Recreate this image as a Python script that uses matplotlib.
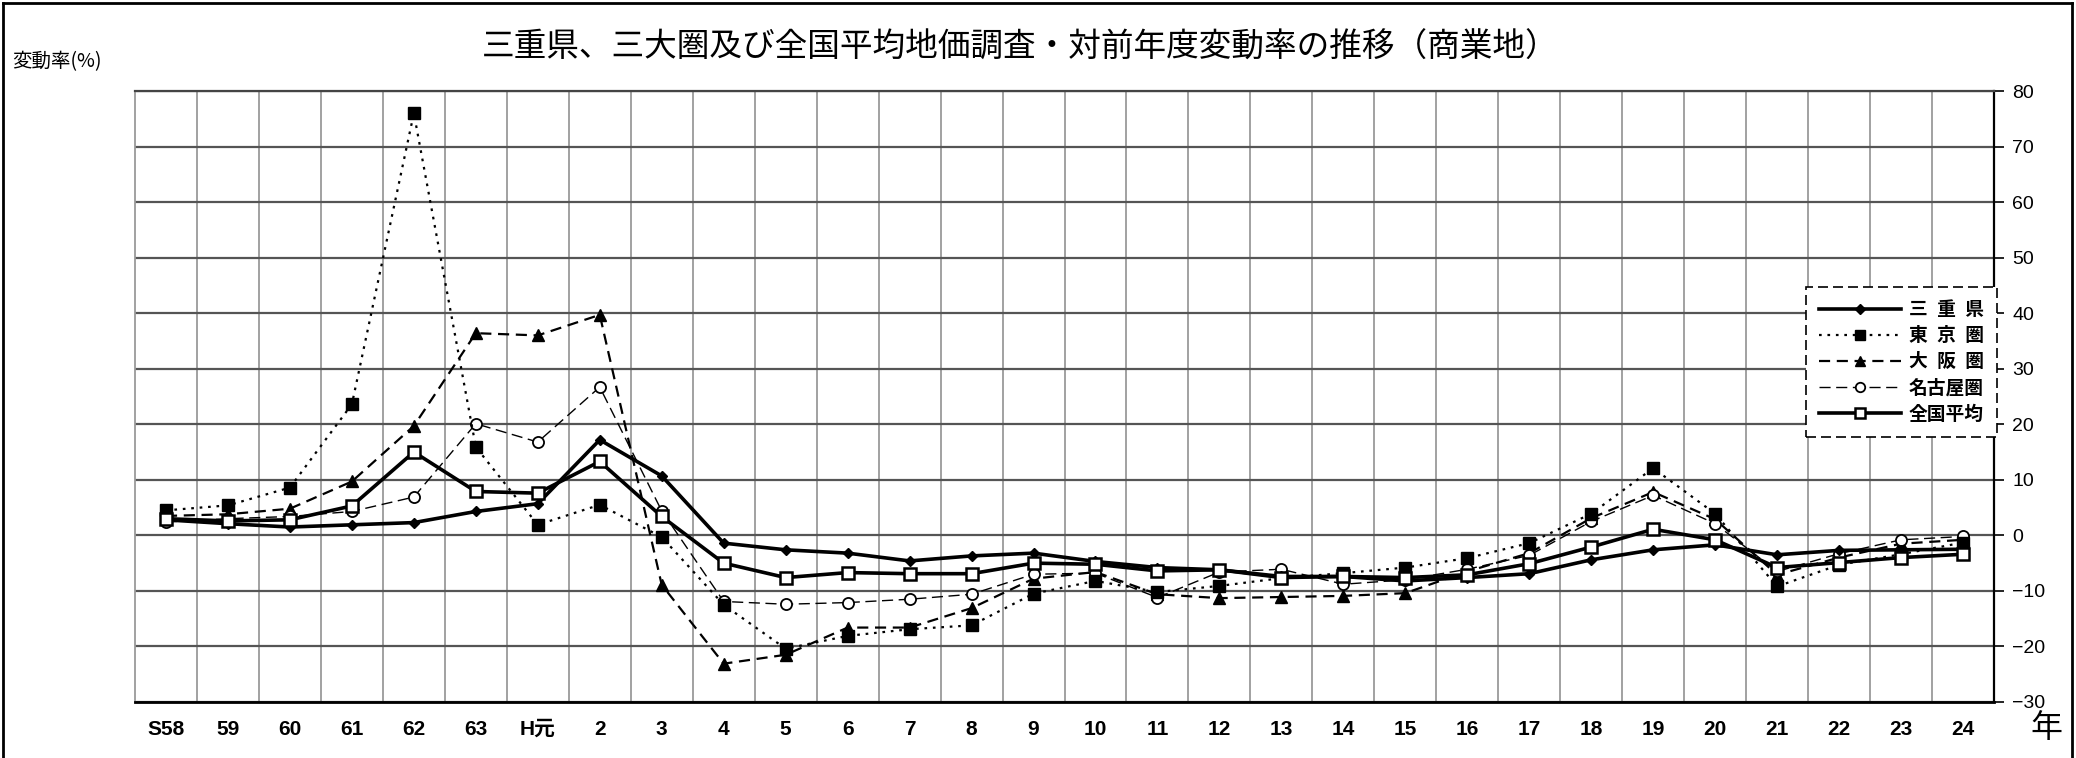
import matplotlib
matplotlib.use("Agg")
import matplotlib.pyplot as plt
from matplotlib import font_manager
from matplotlib.lines import Line2D
import numpy as np

# ---- data -------------------------------------------------------------
years = ["S58", "59", "60", "61", "62", "63", "H元", "2", "3", "4", "5", "6",
         "7", "8", "9", "10", "11", "12", "13", "14", "15", "16", "17", "18",
         "19", "20", "21", "22", "23", "24"]

mie = [2.8, 2.1, 1.5, 1.9, 2.3, 4.3, 5.7, 17.2, 10.7, -1.4, -2.6, -3.2,
       -4.6, -3.7, -3.2, -4.7, -5.8, -6.2, -7.4, -7.4, -8.2, -7.6, -6.9, -4.4,
       -2.6, -1.7, -3.5, -2.7, -2.6, -2.5]
tokyo = [4.5, 5.4, 8.6, 23.6, 76.0, 15.9, 1.9, 5.5, -0.3, -12.5, -20.4, -18.1,
         -16.9, -16.2, -10.5, -8.2, -10.2, -9.1, -7.7, -6.8, -5.8, -4.1, -1.4, 3.9,
         12.1, 3.9, -9.2, -5.3, -3.4, -1.3]
osaka = [3.5, 3.8, 4.8, 9.7, 19.7, 36.4, 36.0, 39.7, -8.9, -23.1, -21.5, -16.6,
         -16.6, -13.1, -7.8, -6.6, -10.6, -11.3, -11.1, -10.9, -10.4, -6.5, -3.2, 3.1,
         7.8, 2.9, -7.1, -4.0, -1.5, -0.8]
nagoya = [2.4, 3.0, 3.4, 4.3, 6.9, 20.1, 16.8, 26.7, 4.4, -11.9, -12.4, -12.1,
          -11.5, -10.6, -7.0, -6.8, -11.2, -6.6, -6.1, -8.8, -8.0, -6.1, -3.6, 2.5,
          7.2, 2.1, -6.5, -3.3, -0.8, -0.2]
national = [3.0, 2.6, 2.8, 5.3, 15.0, 7.9, 7.6, 13.3, 3.4, -5.0, -7.6, -6.7,
            -6.9, -6.9, -5.0, -5.2, -6.4, -6.2, -7.6, -7.4, -7.6, -7.1, -5.1, -2.1,
            1.1, -0.8, -5.8, -4.9, -4.0, -3.4]

series_names = ["三\u2002重\u2002県", "東\u2002京\u2002圏", "大\u2002阪\u2002圏",
                "名古屋圏", "全国平均"]

# ---- fonts ------------------------------------------------------------
installed = {f.name for f in font_manager.fontManager.ttflist}
jp = ["Noto Sans CJK JP", "DejaVu Sans"]
num_font = "Liberation Sans Narrow" if "Liberation Sans Narrow" in installed else "Liberation Sans"
num_fam = [num_font, "Noto Sans CJK JP", "DejaVu Sans"]
plt.rcParams["font.family"] = jp
plt.rcParams["axes.unicode_minus"] = True

W, H = 2076, 758
fig = plt.figure(figsize=(W / 100, H / 100), dpi=100)
ax = fig.add_axes([135 / W, 1 - 702 / H, (1994 - 135) / W, (702 - 91) / H])

x = np.arange(len(years))

# ---- grid -------------------------------------------------------------
ax.set_xlim(-0.5, len(years) - 0.5)
ax.set_ylim(-30, 80)
ax.set_yticks(np.arange(-30, 81, 10))
ax.set_xticks(x)
ax.set_xticks(np.arange(0.5, len(years) - 1, 1.0), minor=True)
ax.grid(axis="y", which="major", color="#555555", linewidth=1.6, zorder=0)
ax.grid(axis="x", which="minor", color="#9a9a9a", linewidth=1.3, zorder=0)
ax.grid(axis="x", which="major", visible=False)
ax.tick_params(axis="x", which="both", length=0, pad=13)
ax.yaxis.tick_right()
ax.tick_params(axis="y", which="major", direction="out", length=7, width=1.2,
               pad=6, labelsize=14, colors="black")
for lbl in ax.get_yticklabels():
    lbl.set_family(["Liberation Sans", "DejaVu Sans"])
ax.set_xticklabels(years)
for lbl in ax.get_xticklabels():
    lbl.set_family(num_fam)
    lbl.set_fontsize(15)
    lbl.set_weight("bold")

ax.spines["left"].set_color("#9a9a9a")
ax.spines["left"].set_linewidth(1.3)
ax.spines["top"].set_color("#444444")
ax.spines["top"].set_linewidth(1.6)
ax.spines["right"].set_color("black")
ax.spines["right"].set_linewidth(1.6)
ax.spines["bottom"].set_color("black")
ax.spines["bottom"].set_linewidth(2.0)

# ---- series -------------------------------------------------------------
l_mie, = ax.plot(x, mie, color="black", linewidth=2.6, linestyle="-",
                 marker="D", markersize=5.5, markerfacecolor="black",
                 markeredgecolor="black", zorder=5, label=series_names[0])
l_tok, = ax.plot(x, tokyo, color="black", linewidth=1.6, linestyle=(0, (1.2, 2.6)),
                 marker="s", markersize=8, markerfacecolor="black",
                 markeredgecolor="black", zorder=4, label=series_names[1])
l_osa, = ax.plot(x, osaka, color="black", linewidth=1.6, linestyle=(0, (5, 3)),
                 marker="^", markersize=8, markerfacecolor="black",
                 markeredgecolor="black", zorder=3, label=series_names[2])
l_nag, = ax.plot(x, nagoya, color="black", linewidth=1.0, linestyle=(0, (8, 4)),
                 marker="o", markersize=8, markerfacecolor="white",
                 markeredgecolor="black", markeredgewidth=1.3, zorder=3,
                 label=series_names[3])
l_nat, = ax.plot(x, national, color="black", linewidth=2.6, linestyle="-",
                 marker="s", markersize=8, markerfacecolor="white",
                 markeredgecolor="black", markeredgewidth=1.8, zorder=6,
                 label=series_names[4])

leg = ax.legend(handles=[l_mie, l_tok, l_osa, l_nag, l_nat],
                loc="upper right", bbox_to_anchor=(1997 / W, 1 - 287 / H),
                bbox_transform=fig.transFigure, borderaxespad=0,
                prop={"family": jp, "weight": "bold", "size": 13.5},
                handlelength=4.4, handletextpad=0.4, labelspacing=0.38,
                borderpad=0.7, fancybox=False, framealpha=1,
                edgecolor="black", markerscale=0.85)
leg.get_frame().set_linestyle((0, (6, 3)))
leg.get_frame().set_linewidth(1.2)
leg.set_zorder(20)

# ---- text ---------------------------------------------------------------
fig.text(1020 / W, 1 - 48 / H,
         "三重県、三大圏及び全国平均地価調査・対前年度変動率の推移（商業地）",
         ha="center", va="center", fontsize=23.5, family=jp)
fig.text(12 / W, 1 - 62 / H, "変動率(%)", ha="left", va="center",
         fontsize=14, family=jp)
fig.text(2046 / W, 1 - 728 / H, "年", ha="center", va="center",
         fontsize=23, family=jp)

# outer frame
frame_kw = dict(color="black", linewidth=2.0, transform=fig.transFigure)
fig.add_artist(Line2D([3 / W, 2072 / W], [1 - 3 / H, 1 - 3 / H], **frame_kw))
fig.add_artist(Line2D([3 / W, 3 / W], [1 - 3 / H, 0], **frame_kw))
fig.add_artist(Line2D([2072 / W, 2072 / W], [1 - 3 / H, 0], **frame_kw))

fig.savefig("out.png", dpi=100, facecolor="white")
